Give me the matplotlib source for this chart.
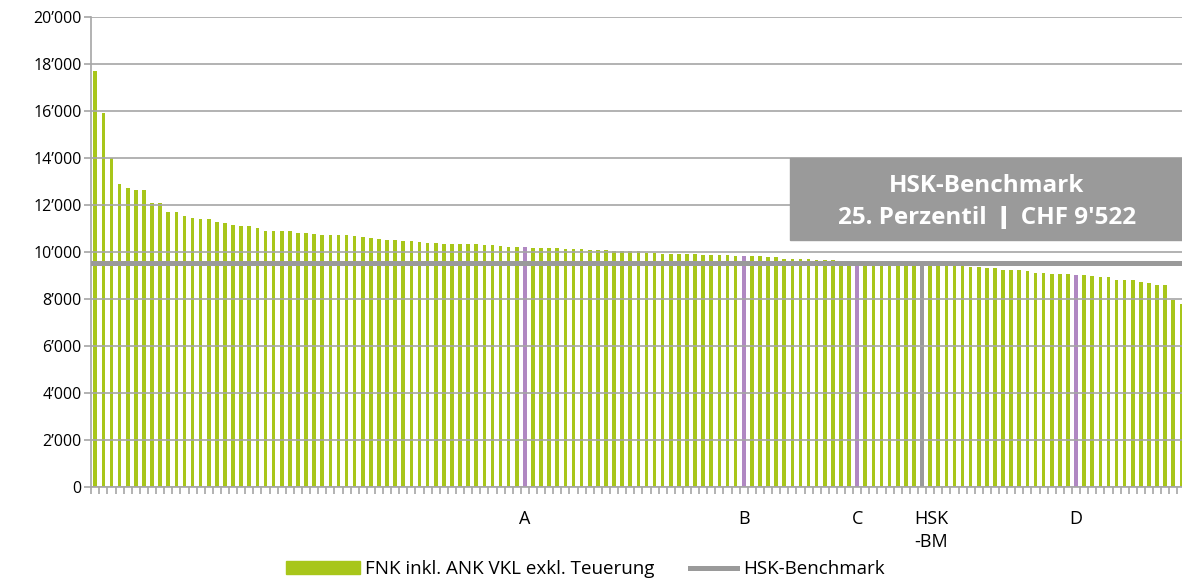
import numpy as np
import matplotlib.pyplot as plt
from matplotlib.patches import Rectangle, Patch
from matplotlib.lines import Line2D
from matplotlib.legend_handler import HandlerLine2D
from matplotlib.transforms import blended_transform_factory

plt.rcParams['font.family'] = ['Open Sans', 'DejaVu Sans']

# FNK per company, sorted descending
values = [
    17700, 15900, 14000, 12900, 12720, 12650, 12620, 12100, 12070, 11720,
    11690, 11530, 11430, 11420, 11400, 11280, 11250, 11150, 11110, 11100,
    11040, 10890, 10890, 10880, 10880, 10820, 10790, 10770, 10730, 10730,
    10710, 10710, 10700, 10640, 10600, 10570, 10510, 10500, 10460, 10450,
    10410, 10370, 10370, 10355, 10340, 10340, 10340, 10330, 10300, 10285,
    10255, 10200, 10200, 10210, 10170, 10170, 10160, 10155, 10130, 10125,
    10110, 10100, 10085, 10080, 10055, 10040, 10030, 10025, 9945, 9940,
    9930, 9915, 9910, 9900, 9895, 9885, 9870, 9870, 9860, 9830,
    9830, 9815, 9815, 9790, 9775, 9715, 9700, 9700, 9690, 9660,
    9645, 9645, 9630, 9620, 9600, 9590, 9585, 9570, 9565, 9550,
    9545, 9530, 9522, 9510, 9490, 9470, 9450, 9405, 9350, 9345,
    9320, 9305, 9250, 9235, 9220, 9180, 9090, 9090, 9080, 9075,
    9065, 9020, 9020, 8980, 8950, 8935, 8795, 8795, 8790, 8710,
    8695, 8610, 8610, 7960, 7790,
]
marked_idx = [53, 80, 94, 121]
marked_lbl = ['A', 'B', 'C', 'D']
hsk_idx = 102
hsk_lbl = 'HSK\n-BM'
benchmark = 9522

green = '#A8C61A'
purple = '#B088C2'
grey = '#9A9A9A'
gridc = '#A6A6A6'

fig = plt.figure(figsize=(11.82, 5.79), dpi=100)
ax = fig.add_axes([91.25 / 1182, 92 / 579, 1094.2 / 1182, 470 / 579])

x = np.arange(len(values))
colors = [green] * len(values)
for i in marked_idx:
    colors[i] = purple
colors[hsk_idx] = grey
ax.bar(x, values, width=0.45, color=colors, edgecolor='none', zorder=1)
ax.axhline(benchmark, color=grey, lw=3.6, zorder=4)

ax.set_xlim(-0.5, len(values) - 0.5)
ax.set_ylim(0, 20000)
yt = np.arange(0, 20001, 2000)
ax.set_yticks(yt)
ax.set_yticklabels([f'{v:,}'.replace(',', '\u2019') for v in yt])
ax.set_xticks(np.arange(len(values) + 1) - 0.5)
ax.set_xticklabels([])
ax.tick_params(axis='both', length=5, width=1.2, color=gridc, labelsize=11.5, pad=2)
ax.set_axisbelow(False)
ax.yaxis.grid(True, color=gridc, lw=1.2)
for s in ['top', 'right']:
    ax.spines[s].set_visible(False)
for s in ['left', 'bottom']:
    ax.spines[s].set_color(gridc)
    ax.spines[s].set_linewidth(1.2)

tr = blended_transform_factory(ax.transData, ax.transAxes)
for i, lbl in zip(marked_idx, marked_lbl):
    ax.text(i, -0.048, lbl, transform=tr, ha='center', va='top', fontsize=13)
ax.text(hsk_idx + 1.1, -0.048, hsk_lbl, transform=tr, ha='center', va='top',
        fontsize=13, linespacing=1.4)

# benchmark box
fig.add_artist(Rectangle((790 / 1182, 339 / 579), 400 / 1182, 82 / 579,
                         transform=fig.transFigure, color=grey, zorder=5))
fig.text(987 / 1182, 1 - 186 / 579, 'HSK-Benchmark', ha='center', va='center',
         color='white', fontsize=17.5, fontweight='bold', zorder=6)
fig.text(987 / 1182, 1 - 218 / 579, "25. Perzentil  \u01c0  CHF 9'522", ha='center', va='center',
         color='white', fontsize=17.5, fontweight='bold', zorder=6)


class ShortLine(HandlerLine2D):
    def get_xdata(self, legend, xdescent, ydescent, width, height, fontsize):
        xd = np.array([-xdescent + width * 0.36, -xdescent + width])
        return xd, xd


handles = [Patch(color=green), Line2D([], [], color=grey, lw=3.6)]
labels = ['FNK inkl. ANK VKL exkl. Teuerung', 'HSK-Benchmark']
fig.legend(handles, labels, loc='center', bbox_to_anchor=(585 / 1182, 1 - 569 / 579),
           ncol=2, frameon=False, fontsize=13.5, handlelength=3.95, handleheight=0.65,
           handletextpad=0.3, columnspacing=0.45, borderpad=0, borderaxespad=0,
           handler_map={Line2D: ShortLine()})

fig.savefig('out.png', dpi=100)
